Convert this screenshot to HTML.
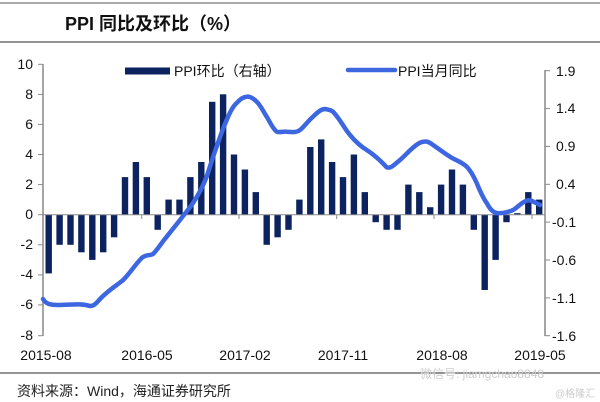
<!DOCTYPE html>
<html><head><meta charset="utf-8"><style>
html,body{margin:0;padding:0;background:#fff;}
svg{display:block;}
text{font-family:"Liberation Sans","Noto Sans CJK SC",sans-serif;}
</style></head><body>
<svg width="600" height="402" viewBox="0 0 600 402" xmlns="http://www.w3.org/2000/svg">
<line x1="0" y1="3" x2="600" y2="3" stroke="#555" stroke-width="1"/>
<line x1="0" y1="42" x2="600" y2="42" stroke="#555" stroke-width="1.2"/>
<text x="65" y="30" font-size="18" font-weight="bold" fill="#111">PPI 同比及环比（%）</text>
<!-- left axis -->
<g stroke="#888" stroke-width="1.5" fill="none">
<line x1="43" y1="64" x2="43" y2="336"/>
<line x1="545" y1="70" x2="545" y2="336"/>
</g>
<g stroke="#888" stroke-width="1">
<line x1="38" y1="64.3" x2="43" y2="64.3"/><line x1="38" y1="94.4" x2="43" y2="94.4"/><line x1="38" y1="124.4" x2="43" y2="124.4"/><line x1="38" y1="154.5" x2="43" y2="154.5"/><line x1="38" y1="184.6" x2="43" y2="184.6"/><line x1="38" y1="214.7" x2="43" y2="214.7"/><line x1="38" y1="244.8" x2="43" y2="244.8"/><line x1="38" y1="274.9" x2="43" y2="274.9"/><line x1="38" y1="304.9" x2="43" y2="304.9"/><line x1="38" y1="335.7" x2="43" y2="335.7"/>
<line x1="545" y1="70.7" x2="550" y2="70.7"/><line x1="545" y1="108.6" x2="550" y2="108.6"/><line x1="545" y1="146.4" x2="550" y2="146.4"/><line x1="545" y1="184.3" x2="550" y2="184.3"/><line x1="545" y1="222.1" x2="550" y2="222.1"/><line x1="545" y1="260" x2="550" y2="260"/><line x1="545" y1="297.9" x2="550" y2="297.9"/><line x1="545" y1="335.7" x2="550" y2="335.7"/>
</g>
<g font-size="14" fill="#111" text-anchor="end">
<text x="33" y="69">10</text><text x="33" y="99">8</text><text x="33" y="129">6</text><text x="33" y="159">4</text><text x="33" y="189">2</text><text x="33" y="219">0</text><text x="33" y="249">-2</text><text x="33" y="279">-4</text><text x="33" y="309">-6</text><text x="33" y="340">-8</text>
</g>
<g font-size="14" fill="#111">
<text x="556" y="76">1.9</text><text x="556" y="113">1.4</text><text x="556" y="151">0.9</text><text x="556" y="189">0.4</text><text x="552" y="227">-0.1</text><text x="552" y="265">-0.6</text><text x="552" y="303">-1.1</text><text x="552" y="341">-1.6</text>
</g>
<g id="bars" fill="#0c2360"></g>
<line x1="43" y1="214.7" x2="545" y2="214.7" stroke="#888" stroke-width="1"/>
<g stroke="#888" stroke-width="1">
<line x1="141.7" y1="214.7" x2="141.7" y2="219"/><line x1="239" y1="214.7" x2="239" y2="219"/><line x1="336.7" y1="214.7" x2="336.7" y2="219"/><line x1="434" y1="214.7" x2="434" y2="219"/><line x1="532" y1="214.7" x2="532" y2="219"/>
</g>
<path d="M43,299 C46,304 50,305 58,305 C70,305 80,303 90,306 C95,306 97,302 102,297 C108,291 114,287 122,281 C128,276 134,266 141.7,258 C146,254 150,256 153,254 C158,249 162,242 166.7,236.7 C172,230 176,225 180,220 C186,212 189,209 193,203 C199,194 203,186 206.7,176.7 C210,167 213,156 216.7,146.7 C220,137 223,128 226.7,120 C230,112 233,106 236.7,103 C240,99 243,97 246.7,96.7 C250,96 253,98 256.7,101.7 C261,106 263,111 266.7,116.7 C270,122 273,129 276.7,131.7 C280,133 283,131 286.7,131.7 C291,132 296,133 300,130 C304,127 308,121 313,116.7 C318,112 322,108 326.7,109.3 C330,110 331,110 333,111.7 C340,119 344,128 350,135 C355,141 360,146 366.7,150 C373,154 379,159 386.7,167.3 C391,169 395,164 400,160 C406,155 413,146 420,142.7 C426,140 429,142 433,145 C439,149 444,153 450,156.7 C455,160 462,162 466.7,166.7 C471,171 474,177 476.7,183 C480,191 483,198 486.7,203 C490,209 493,213 498.3,213.3 C504,213 509,212 513,210 C518,207 522,202 526.7,200.7 C531,199 535,203 540,205" fill="none" stroke="#3d67e0" stroke-width="4.5" stroke-linecap="round" stroke-linejoin="round"/>
<!-- legend -->
<rect x="125" y="67.5" width="45" height="7" fill="#0c2360"/>
<text x="174" y="76" font-size="14" fill="#111">PPI环比（右轴）</text>
<line x1="348" y1="70" x2="395" y2="70" stroke="#3d67e0" stroke-width="4.5" stroke-linecap="round"/>
<text x="398" y="76" font-size="14" fill="#111">PPI当月同比</text>
<g font-size="14" fill="#111" text-anchor="middle">
<text x="46" y="360">2015-08</text><text x="147" y="360">2016-05</text><text x="245" y="360">2017-02</text><text x="343" y="360">2017-11</text><text x="442" y="360">2018-08</text><text x="540" y="360">2019-05</text>
</g>
<line x1="0" y1="373" x2="600" y2="373" stroke="#555" stroke-width="1.2"/>
<text x="17" y="396" font-size="14" fill="#222">资料来源：Wind，海通证券研究所</text>
<text x="420" y="378" font-size="12" fill="#ccc">微信号: jiamgchao8848</text>
<text x="555" y="397" font-size="10" fill="#ccc">@格隆汇</text>
</svg>
<script>
var v=[-3.9,-2,-2,-2.5,-3,-2.5,-1.5,2.5,3.5,2.5,-1,1,1,2.5,3.5,7.5,8,4,3,1.5,-2,-1.5,-1,1,4.5,5,3.5,2.5,4,1.5,-0.5,-1,-1,2,1.5,0.5,2,3,2,-1,-5,-3,-0.5,0.1,1.5,1];
var g=document.getElementById('bars'),s='';
for(var i=0;i<v.length;i++){var x=48.7+i*10.9-3.2,h=Math.abs(v[i])*15.05,y=v[i]>0?214.7-h:214.7;
s+='<rect x="'+x.toFixed(1)+'" y="'+y.toFixed(1)+'" width="6.4" height="'+h.toFixed(1)+'"/>';}
g.innerHTML=s;
</script>
</body></html>
